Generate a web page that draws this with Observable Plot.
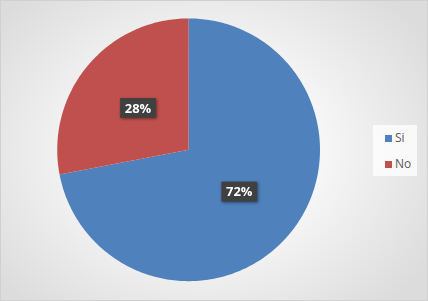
<!DOCTYPE html>
<html>
<head>
<meta charset="utf-8">
<script src="https://cdn.jsdelivr.net/npm/d3@7"></script>
<script src="https://cdn.jsdelivr.net/npm/@observablehq/plot@0.6"></script>
<style>
  html, body { margin: 0; padding: 0; background: #fff; }
  #chart {
    position: relative; width: 428px; height: 301px; box-sizing: border-box;
    border: 1px solid #d0d0d0;
    background: radial-gradient(ellipse 62% 70% at 48% 50%, #ffffff 0%, #f6f6f6 45%, #dcdcdc 100%);
    font-family: "Open Sans", "Liberation Sans", sans-serif;
    overflow: hidden;
  }
  #chart svg { position: absolute; left: -1px; top: -1px; background: transparent; }
  .lblbox { filter: drop-shadow(1.5px 1.5px 1.5px rgba(0,0,0,0.45)); }
  #legend {
    position: absolute; left: 372px; top: 124px; width: 44px; height: 51px;
    background: rgba(255,255,255,0.75);
  }
  .item { position: absolute; left: 12px; font-size: 12px; color: #595959; line-height: 14px; }
  .item span { display: inline-block; width: 7px; height: 7px; margin-right: 3px; vertical-align: 0px; }
</style>
</head>
<body>
<div id="chart"></div>
<script>
const categories = ["Si", "No"];
const values = [72, 28];
const colors = ["#4F81BD", "#C0504D"];
const labels = ["72%", "28%"];

const pie = d3.pie().sort(null).value(d => d.value)(
  categories.map((c, i) => ({category: c, value: values[i]}))
);

// outline points of each slice, sampled along the arc
const slices = [];
pie.forEach((p, i) => {
  const cat = categories[i];
  slices.push({category: cat, x: 0, y: 0});
  const n = Math.max(2, Math.ceil((p.endAngle - p.startAngle) / (Math.PI / 180)));
  for (let k = 0; k <= n; k++) {
    const a = p.startAngle + (p.endAngle - p.startAngle) * k / n;
    slices.push({category: cat, x: Math.sin(a), y: Math.cos(a)});
  }
});

const centroids = pie.map((p, i) => {
  const a = (p.startAngle + p.endAngle) / 2;
  return {category: categories[i], label: labels[i], x: 0.5 * Math.sin(a), y: 0.5 * Math.cos(a)};
});

const boxSymbol = { draw(ctx) { ctx.rect(-18, -10, 36, 20); } };

const plot = Plot.plot({
  width: 428, height: 301,
  marginLeft: 57, marginRight: 107, marginTop: 18, marginBottom: 19,
  x: {domain: [-1, 1], axis: null},
  y: {domain: [-1, 1], axis: null},
  style: {background: "transparent", overflow: "visible"},
  marks: [
    ...categories.map((c, i) => Plot.line(slices.filter(d => d.category === c), {
      x: "x", y: "y", fill: colors[i], stroke: "none"
    })),
    Plot.dot(centroids, {x: "x", y: "y", symbol: boxSymbol, fill: "#404040", stroke: "none", r: 1, className: "lblbox"}),
    Plot.text(centroids, {x: "x", y: "y", text: "label", fill: "white", fontWeight: "bold", fontSize: 13, fontFamily: "Open Sans, Liberation Sans, sans-serif", dy: 0.5})
  ]
});

const chart = document.getElementById("chart");
chart.appendChild(plot);

const legend = document.createElement("div");
legend.id = "legend";
categories.forEach((c, i) => {
  const it = document.createElement("div");
  it.className = "item";
  it.style.top = (6 + i * 26) + "px";
  it.innerHTML = `<span style="background:${colors[i]}"></span>${c}`;
  legend.appendChild(it);
});
chart.appendChild(legend);
</script>
</body>
</html>
